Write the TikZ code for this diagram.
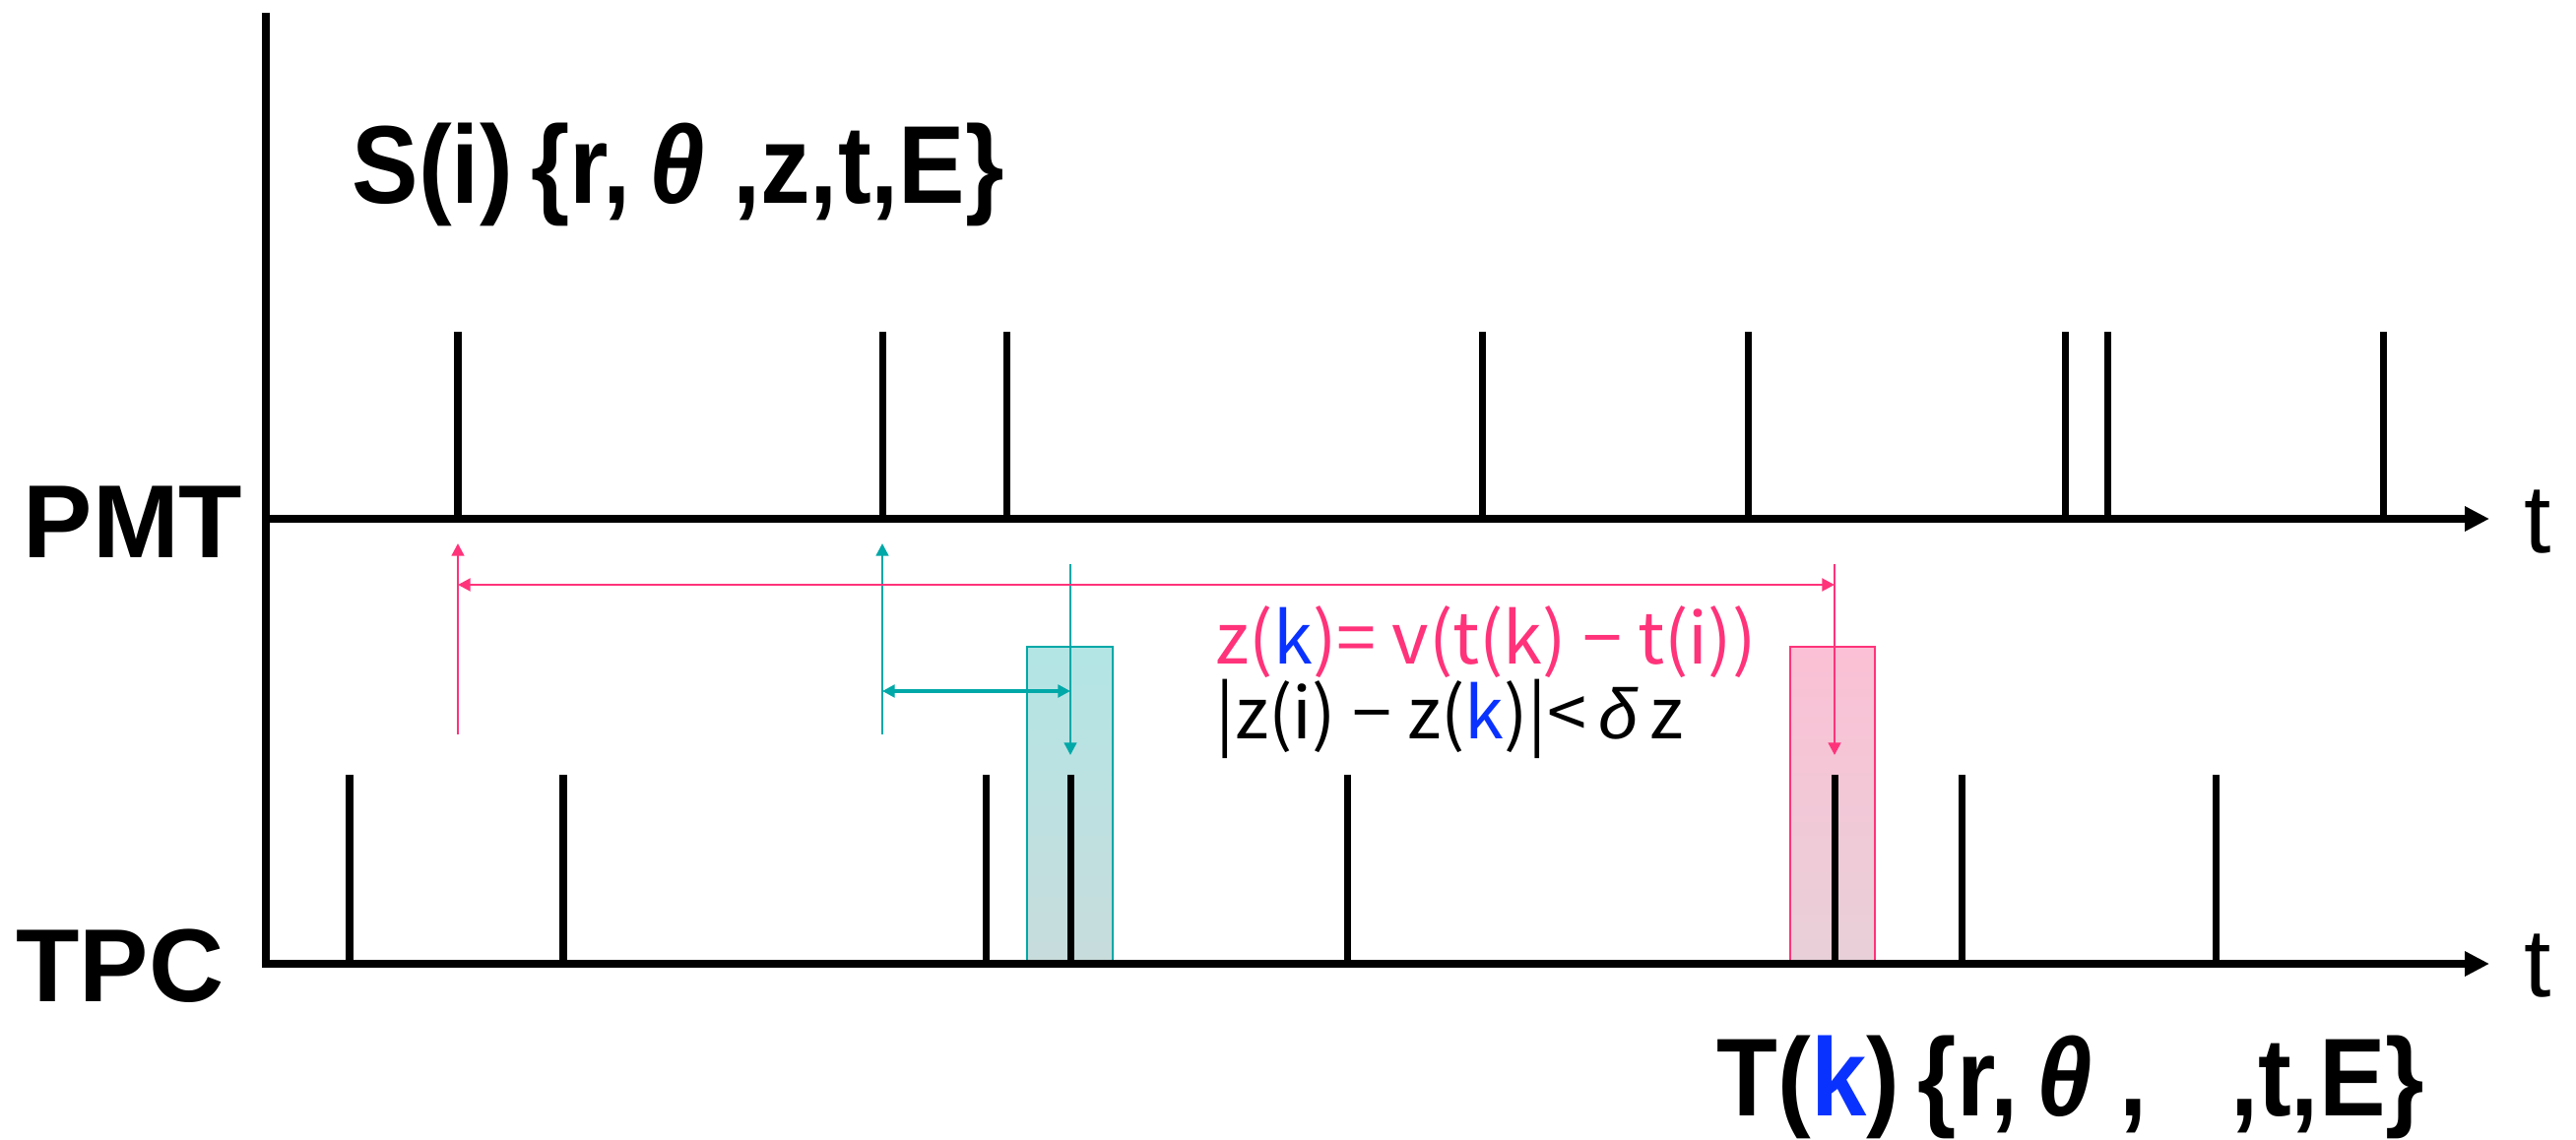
\documentclass[tikz,border=0pt]{standalone}
\usepackage{fontspec}
\setmainfont{Liberation Sans}
\newfontfamily\formfont{Noto Sans CJK JP}
\newfontfamily\labelfont{Liberation Sans}[FakeStretch=0.9]
\usetikzlibrary{arrows.meta}

\definecolor{pinkline}{RGB}{255,51,122}
\definecolor{tealline}{RGB}{0,168,168}
\definecolor{kblue}{RGB}{10,50,255}
\newcommand{\gk}[1]{{\rmfamily\itshape #1}}

\begin{document}
\begin{tikzpicture}[x=1cm,y=1cm]
  \tikzset{
    axis/.style={line width=2pt,-{Triangle[length=0.25cm,width=0.24cm]}},
    pulse/.style={line width=2pt},
    big/.style={font=\fontsize{30}{36}\selectfont\bfseries,inner sep=0pt},
    record/.style={font=\labelfont\fontsize{32}{38}\selectfont\bfseries,inner sep=0pt,anchor=west},
    tlabel/.style={font=\fontsize{28}{34}\selectfont,inner sep=0pt},
    formula/.style={font=\formfont\fontsize{20.5}{25}\selectfont,inner sep=0pt,anchor=west},
    pinkarrow/.style={draw=pinkline,line width=0.7pt,-{Triangle[length=3.6pt,width=3.6pt]}},
    tealarrow/.style={draw=tealline,line width=0.7pt,-{Triangle[length=3.6pt,width=3.6pt]}},
    both/.style={{Triangle[length=3.6pt,width=3.6pt]}-{Triangle[length=3.6pt,width=3.6pt]}},
    pinkbox/.style={draw=pinkline,line width=0.8pt,top color={rgb,255:red,251;green,192;blue,213},bottom color={rgb,255:red,232;green,208;blue,216}},
    tealbox/.style={draw=tealline,line width=0.8pt,top color={rgb,255:red,179;green,229;blue,229},bottom color={rgb,255:red,200;green,220;blue,220}}
  }
  \useasboundingbox (0,0) rectangle (26.16,11.57);

  % axes
  \coordinate (origin) at (2.70,1.78);
  \coordinate (axistop) at (2.70,11.44);
  \coordinate (pmtleft) at (2.70,6.30);
  \coordinate (pmtright) at (25.28,6.30);
  \coordinate (tpcright) at (25.28,1.78);

  % coincidence windows
  \draw[tealbox] (10.43,1.78) rectangle (11.30,5.00);
  \draw[pinkbox] (18.18,1.78) rectangle (19.04,5.00);

  \draw[axis] (axistop) -- (origin) -- (tpcright);
  \draw[axis] (pmtleft) -- (pmtright);

  % signals
  \foreach \x in {4.65,8.96,10.22,15.05,17.75,20.97,21.40,24.20}
    \draw[pulse] (\x,6.30) -- ++(0,1.90);
  \foreach \x in {3.55,5.72,10.01,10.87,13.68,18.63,19.92,22.50}
    \draw[pulse] (\x,1.78) -- ++(0,1.92);

  % matching arrows
  \coordinate (pinkup0) at (4.65,4.11);
  \coordinate (pinkup1) at (4.65,6.05);
  \coordinate (pinkh0) at (4.65,5.63);
  \coordinate (pinkh1) at (18.63,5.63);
  \coordinate (pinkdn0) at (18.63,5.84);
  \coordinate (pinkdn1) at (18.63,3.90);
  \coordinate (tealup0) at (8.96,4.11);
  \coordinate (tealup1) at (8.96,6.05);
  \coordinate (tealh0) at (8.96,4.55);
  \coordinate (tealh1) at (10.87,4.55);
  \coordinate (tealdn0) at (10.87,5.84);
  \coordinate (tealdn1) at (10.87,3.90);

  \draw[tealarrow] (tealup0) -- (tealup1);
  \draw[tealarrow] (tealdn0) -- (tealdn1);
  \draw[tealarrow,line width=0.9pt,both] (tealh0) -- (tealh1);
  \draw[pinkarrow] (pinkup0) -- (pinkup1);
  \draw[pinkarrow] (pinkdn0) -- (pinkdn1);
  \draw[pinkarrow,line width=0.8pt,both] (pinkh0) -- (pinkh1);

  % labels
  \node[big] (pmt) at (1.35,6.27) {PMT};
  \node[big] (tpc) at (1.22,1.76) {TPC};
  \node[tlabel] (tpmt) at (25.77,6.27) {t};
  \node[tlabel] (ttpc) at (25.77,1.76) {t};
  \node[record] (signal) at (3.57,9.80) {S(i)\,\{r,\,\textit{θ} ,z,t,E\}};
  \node[record] (track) at (17.43,0.53) {T(\textcolor{kblue}{k})\,\{r,\,\textit{θ} ,\ \ \ ,t,E\}};
  \node[formula,text=pinkline] (zdrift) at (12.34,5.05) {z(\textcolor{kblue}{k})= v(t(k) − t(i))};
  \node[formula] (zcut) at (12.34,4.27) {|z(i) − z(\textcolor{kblue}{k})|<\,\gk{δ}\,z};
\end{tikzpicture}
\end{document}
